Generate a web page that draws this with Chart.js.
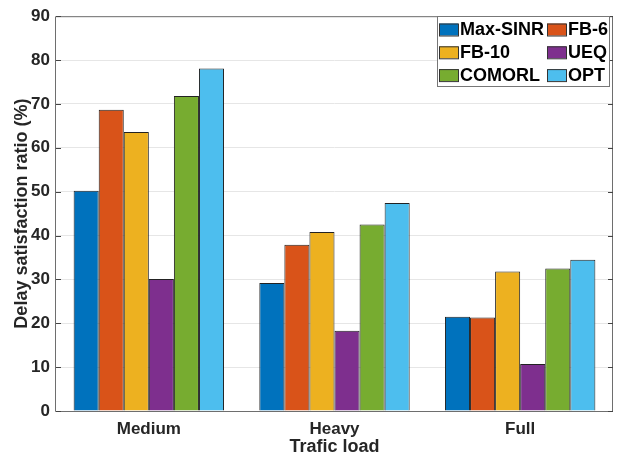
<!DOCTYPE html>
<html>
<head>
<meta charset="utf-8">
<script src="https://cdn.jsdelivr.net/npm/chart.js@4.4.0/dist/chart.umd.min.js"></script>
<style>
  html, body { margin: 0; padding: 0; background: #fff; }
  #wrap { width: 621px; height: 458px; }
</style>
</head>
<body>
<div id="wrap"><canvas id="c" width="621" height="458"></canvas></div>
<script>
// data
const loads = ['Medium', 'Heavy', 'Full'];
const seriesNames = ['Max-SINR', 'FB-6', 'FB-10', 'UEQ', 'COMORL', 'OPT'];
const maxSinr = [50.2, 29.2, 21.5];
const fb6     = [68.7, 37.9, 21.3];
const fb10    = [63.6, 40.8, 31.8];
const ueq     = [30.1, 18.3, 10.7];
const comorl  = [71.8, 42.5, 32.5];
const opt     = [78.1, 47.4, 34.5];
const yTicks  = [0, 10, 20, 30, 40, 50, 60, 70, 80, 90];

const colors = ['#0072BD', '#D95319', '#EDB120', '#7E2F8E', '#77AC30', '#4DBEEE'];
const allSeries = [maxSinr, fb6, fb10, ueq, comorl, opt];
const FONT = "'Liberation Sans', Arial, sans-serif";
const TXT = '#262626';

// box, inward ticks and in-plot legend like matlab
const matlabAxes = {
  id: 'matlabAxes',
  afterDatasetsDraw(chart) {
    const { ctx, chartArea: a, scales } = chart;
    ctx.save();
    ctx.strokeStyle = '#6e6e6e';
    ctx.lineWidth = 1;
    ctx.beginPath();
    ctx.rect(a.left - 0.5, a.top + 0.5, a.right - a.left, a.bottom - a.top);
    ctx.stroke();
    ctx.strokeStyle = '#444';
    yTicks.forEach(v => {
      const y = Math.round(scales.y.getPixelForValue(v)) + 0.5;
      ctx.beginPath();
      ctx.moveTo(a.left, y); ctx.lineTo(a.left + 5, y);
      ctx.moveTo(a.right, y); ctx.lineTo(a.right - 5, y);
      ctx.stroke();
    });

    // legend
    const bx = 437, by = 16, bw = 172, bh = 70;
    ctx.fillStyle = '#fff';
    ctx.fillRect(bx, by, bw, bh);
    ctx.strokeStyle = '#777';
    ctx.strokeRect(bx + 0.5, by + 0.5, bw, bh);
    ctx.font = 'bold 18px ' + FONT;
    ctx.textBaseline = 'middle';
    ctx.textAlign = 'left';
    seriesNames.forEach((name, i) => {
      const col = i % 2, row = Math.floor(i / 2);
      const sx = col === 0 ? bx + 2 : bx + 110;
      const cy = by + 13.5 + row * 22.8;
      ctx.fillStyle = colors[i];
      ctx.fillRect(sx, cy - 6, 19, 12);
      ctx.strokeStyle = '#333';
      ctx.strokeRect(sx + 0.5, cy - 5.5, 19, 12);
      ctx.fillStyle = '#000';
      ctx.fillText(name, sx + 21, cy + 1);
    });
    ctx.restore();
  }
};

new Chart(document.getElementById('c'), {
  type: 'bar',
  data: {
    labels: loads,
    datasets: allSeries.map((vals, i) => ({
      label: seriesNames[i],
      data: vals,
      backgroundColor: colors[i],
      borderColor: '#222',
      borderWidth: 1,
      categoryPercentage: 0.81,
      barPercentage: 1.0
    }))
  },
  options: {
    responsive: false,
    animation: false,
    layout: { padding: { top: 12, right: 8, left: 0, bottom: 0 } },
    plugins: { legend: { display: false }, tooltip: { enabled: false } },
    scales: {
      x: {
        offset: true,
        grid: { display: false, drawTicks: false },
        border: { display: false },
        ticks: { color: TXT, font: { family: FONT, size: 17, weight: 'bold' }, padding: 8 },
        title: { display: true, text: 'Trafic load', color: TXT, font: { family: FONT, size: 18, weight: 'bold' }, padding: { top: 0, bottom: 0 } },
        afterFit(s) { s.height = 47; }
      },
      y: {
        min: 0, max: 90,
        afterBuildTicks(s) { s.ticks = yTicks.map(v => ({ value: v })); },
        grid: { color: '#e6e6e6', drawTicks: false },
        border: { display: false },
        ticks: { color: TXT, font: { family: FONT, size: 17, weight: 'bold' }, padding: 6 },
        title: { display: true, text: 'Delay satisfaction ratio (%)', color: TXT, font: { family: FONT, size: 18, weight: 'bold' }, padding: { top: 11, bottom: 0 } },
        afterFit(s) { s.width = 56; }
      }
    }
  },
  plugins: [matlabAxes]
});
</script>
</body>
</html>
